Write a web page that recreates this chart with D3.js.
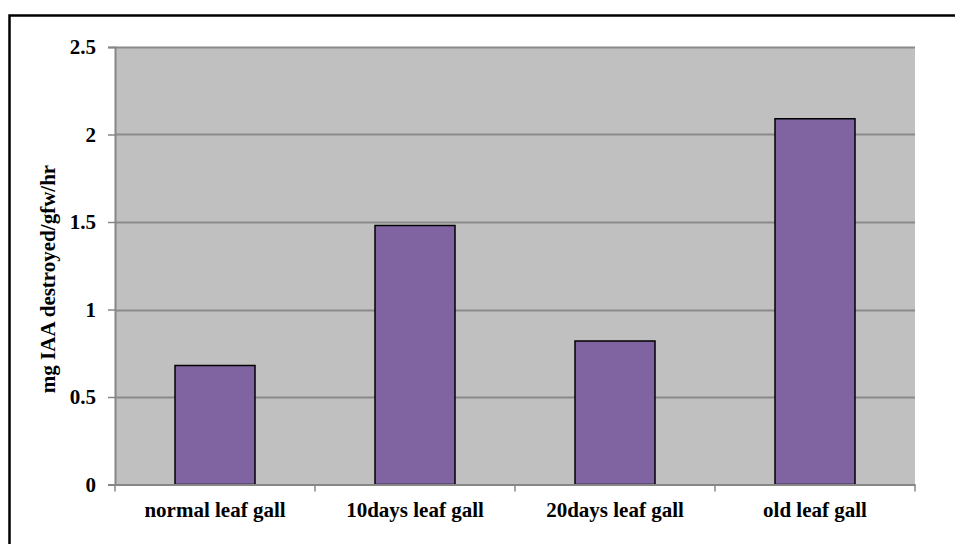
<!DOCTYPE html>
<html><head><meta charset="utf-8">
<script src="https://cdn.jsdelivr.net/npm/d3@7"></script>
<style>body{margin:0;background:#fff}svg{display:block}</style>
</head><body>
<svg id="c" width="955" height="544"></svg>
<script>
const categories = ["normal leaf gall", "10days leaf gall", "20days leaf gall", "old leaf gall"];
const values = [0.68, 1.48, 0.82, 2.09];
const yTicks = [0, 0.5, 1, 1.5, 2, 2.5];
const yTitle = "mg IAA destroyed/gfw/hr";

const svg = d3.select("#c");
const font = "'Liberation Serif','Times New Roman',serif";
const fs = 21;
const L = 115, R = 915, T = 47, B = 484.5;

svg.append("rect").attr("x", 9.5).attr("y", 15.5).attr("width", 960).attr("height", 560)
  .attr("fill", "none").attr("stroke", "#000").attr("stroke-width", 2.5);

const x = d3.scaleBand().domain(categories).range([L, R]).padding(0);
const y = d3.scaleLinear().domain([0, 2.5]).range([B, T]);

svg.append("rect").attr("x", L).attr("y", T).attr("width", R - L).attr("height", B - T).attr("fill", "#c0c0c0");

svg.append("g").selectAll("line").data(yTicks.filter(d => d > 0)).join("line")
  .attr("x1", L).attr("x2", R).attr("y1", d => Math.round(y(d)) + 0.5).attr("y2", d => Math.round(y(d)) + 0.5)
  .attr("stroke", "#8a8a8a").attr("stroke-width", 2);

const bw = x.bandwidth() * 0.4;
svg.append("g").selectAll("rect").data(values).join("rect")
  .attr("x", (d, i) => x(categories[i]) + (x.bandwidth() - bw) / 2)
  .attr("y", d => y(d))
  .attr("width", bw)
  .attr("height", d => B - y(d))
  .attr("fill", "#8064a2").attr("stroke", "#000").attr("stroke-width", 1.5);

const yAxis = d3.axisLeft(y).tickValues(yTicks).tickSize(7).tickPadding(12).tickFormat(d3.format("~g"));
const gy = svg.append("g").attr("transform", `translate(${L},0)`).call(yAxis);
gy.attr("font-size", fs).attr("font-family", font);
gy.select(".domain").attr("stroke", "#868686").attr("stroke-width", 2);
gy.selectAll(".tick line").attr("stroke", "#868686").attr("stroke-width", 1.5);
gy.selectAll("text").style("font-family", font).style("font-weight", "bold").style("font-size", fs + "px").attr("fill", "#000");

const xAxis = d3.axisBottom(x).tickSize(0).tickPadding(0);
const gx = svg.append("g").attr("transform", `translate(0,${B})`).call(xAxis);
gx.attr("font-size", fs).attr("font-family", font);
gx.select(".domain").attr("stroke", "#868686").attr("stroke-width", 2);
gx.selectAll("text").style("font-family", font).style("font-weight", "bold").style("font-size", fs + "px").attr("fill", "#000")
  .attr("dy", 0).attr("y", 32);
const bounds = categories.map(c => x(c)).concat([R]);
svg.append("g").selectAll("line").data(bounds).join("line")
  .attr("x1", d => d).attr("x2", d => d).attr("y1", B).attr("y2", B + 7)
  .attr("stroke", "#868686").attr("stroke-width", 1.5);

svg.append("text").attr("transform", `translate(55,279) rotate(-90)`).attr("text-anchor", "middle")
  .style("font-family", font).style("font-weight", "bold").style("font-size", fs + "px").text(yTitle);
</script>
</body></html>
